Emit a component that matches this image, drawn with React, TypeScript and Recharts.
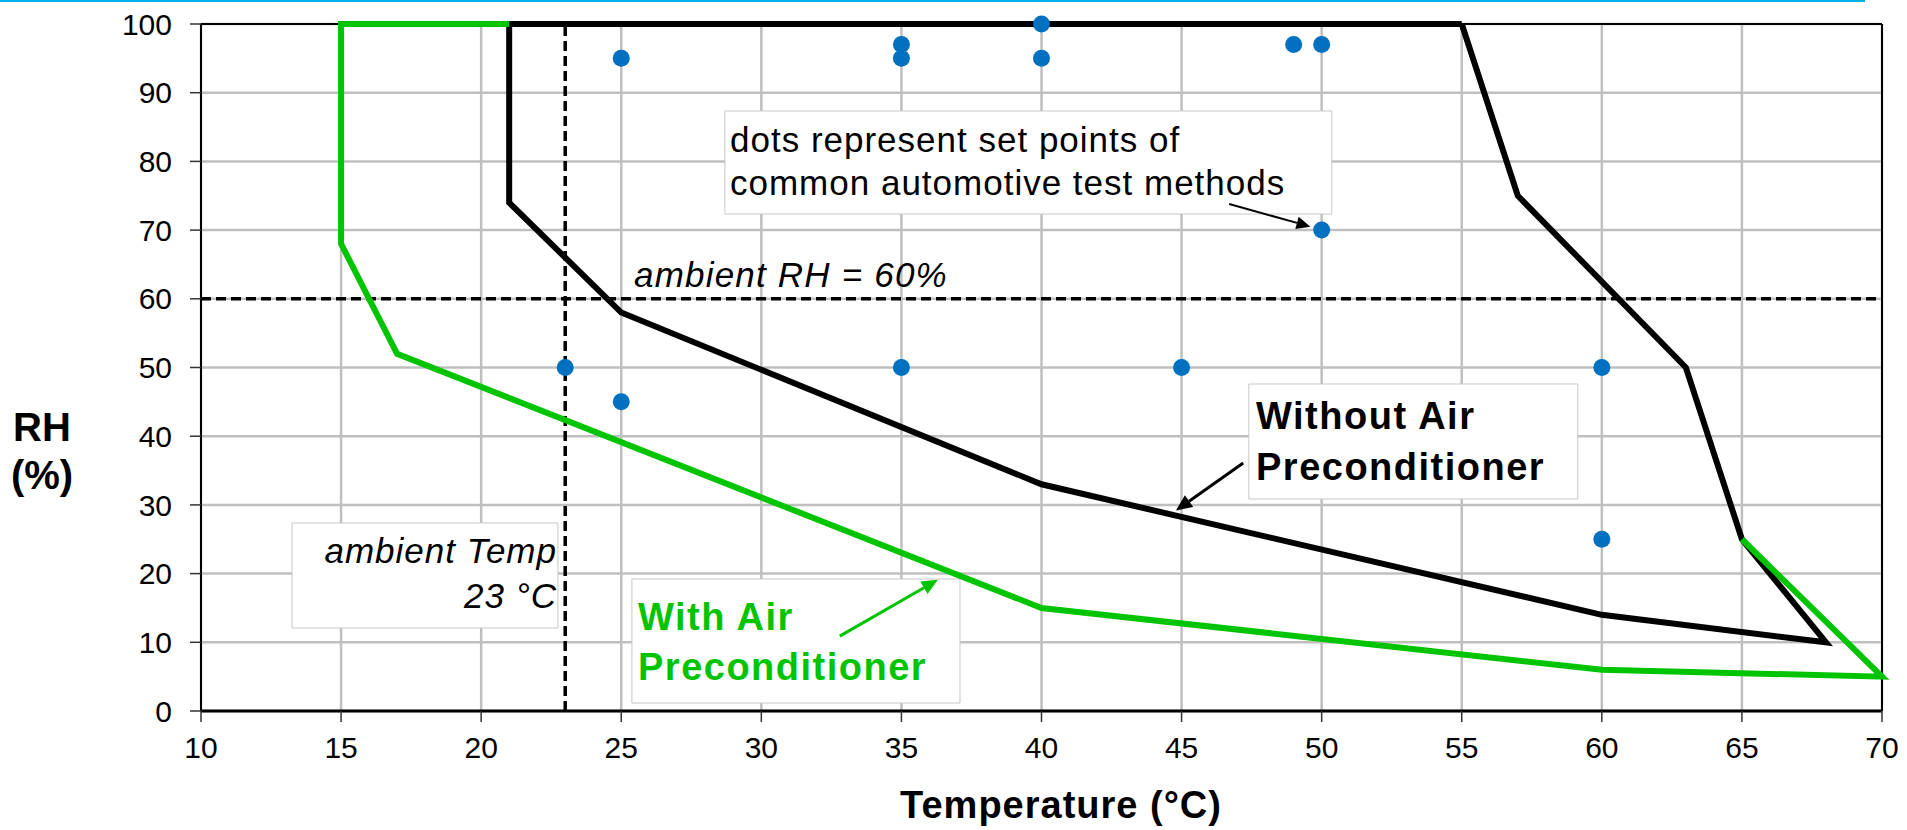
import React from "react";
import {
  ComposedChart,
  Line,
  Scatter,
  XAxis,
  YAxis,
  CartesianGrid,
  ReferenceLine,
  ReferenceArea,
} from "recharts";

// ==================== DATA ====================

const xTicks = [10, 15, 20, 25, 30, 35, 40, 45, 50, 55, 60, 65, 70];
const yTicks = [0, 10, 20, 30, 40, 50, 60, 70, 80, 90, 100];

// envelope without air preconditioner (closed outline)
const withoutAirT = [55, 21, 21, 25, 40, 60, 68, 65, 63, 57, 55];
const withoutAirRH = [100, 100, 74, 58, 33, 14, 10, 25, 50, 75, 100];

// envelope with air preconditioner
const withAirT = [21, 15, 15, 17, 40, 60, 70, 65];
const withAirRH = [100, 100, 68, 52, 15, 6, 5, 25];

// set points of common automotive test methods
const testT = [25, 35, 35, 40, 40, 49, 50, 50, 23, 25, 35, 45, 60, 60];
const testRH = [95, 97, 95, 100, 95, 97, 97, 70, 50, 45, 50, 50, 50, 25];

const ambientTemp = 23;
const ambientRH = 60;

const FONT = '"Liberation Sans", Arial, sans-serif';
const GREEN = "#00C400";
const BLUE = "#0070C0";

const toPoints = (t: number[], rh: number[]) =>
  t.map((v, i) => ({ t: v, rh: rh[i] }));

const withoutAir = toPoints(withoutAirT, withoutAirRH);
const withAir = toPoints(withAirT, withAirRH);
const testPoints = toPoints(testT, testRH);

// arrow drawn from a ReferenceLine segment, head at the second point
const arrowShape =
  (color: string, width: number, head: number) => (props: any) => {
    const { x1, y1, x2, y2 } = props;
    const a = Math.atan2(y2 - y1, x2 - x1);
    const bx = x2 - head * Math.cos(a);
    const by = y2 - head * Math.sin(a);
    const w = head * 0.45;
    const px = -Math.sin(a) * w;
    const py = Math.cos(a) * w;
    return (
      <g>
        <line x1={x1} y1={y1} x2={bx} y2={by} stroke={color} strokeWidth={width} />
        <polygon
          points={`${x2},${y2} ${bx + px},${by + py} ${bx - px},${by - py}`}
          fill={color}
        />
      </g>
    );
  };

const Dot = (props: any) => (
  <circle cx={props.cx} cy={props.cy} r={8.5} fill={BLUE} />
);

// white note boxes (drawn in chart coords, under curves and arrows)
const noteBox = {
  fill: "#fff",
  fillOpacity: 1,
  stroke: "#c8c8c8",
  strokeWidth: 1,
  ifOverflow: "visible" as const,
};

const textStyle: React.CSSProperties = {
  position: "absolute",
  fontFamily: FONT,
  whiteSpace: "nowrap",
};

export default function App() {
  return (
    <div
      style={{
        position: "absolute",
        left: 0,
        top: 0,
        width: 1907,
        height: 830,
        background: "#fff",
        overflow: "hidden",
      }}
    >
      {/* thin cyan rule along the top */}
      <div
        style={{
          position: "absolute",
          left: 0,
          top: 0,
          width: 1865,
          height: 2,
          background: "#00B0F0",
        }}
      />

      <ComposedChart
        width={1907}
        height={830}
        margin={{ top: 24, right: 25, bottom: 59, left: 81 }}
      >
        <CartesianGrid stroke="#bfbfbf" strokeWidth={2.5} />
        <XAxis
          type="number"
          dataKey="t"
          domain={[10, 70]}
          ticks={xTicks}
          interval={0}
          height={60}
          tickSize={11}
          tickMargin={15}
          tick={{ fontSize: 30, fill: "#000", fontFamily: FONT }}
          axisLine={{ stroke: "#000", strokeWidth: 3 }}
          tickLine={{ stroke: "#333", strokeWidth: 1.5 }}
        />
        <YAxis
          type="number"
          dataKey="rh"
          domain={[0, 100]}
          ticks={yTicks}
          interval={0}
          width={120}
          tickSize={11}
          tickMargin={18}
          tick={{ fontSize: 30, fill: "#000", fontFamily: FONT }}
          axisLine={{ stroke: "#000", strokeWidth: 2 }}
          tickLine={{ stroke: "#333", strokeWidth: 1.5 }}
        />

        <ReferenceArea x1={28.7} x2={50.36} y1={72.34} y2={87.34} {...noteBox} />
        <ReferenceArea x1={13.25} x2={22.74} y1={12.08} y2={27.37} {...noteBox} />
        <ReferenceArea x1={47.4} x2={59.14} y1={30.86} y2={47.6} {...noteBox} />
        <ReferenceArea x1={25.38} x2={37.09} y1={1.16} y2={19.21} {...noteBox} />

        {/* plot frame top and right */}
        <ReferenceLine y={100} stroke="#000" strokeWidth={2} />
        <ReferenceLine x={70} stroke="#000" strokeWidth={2} />

        {/* ambient conditions */}
        <ReferenceLine
          y={ambientRH}
          stroke="#000"
          strokeWidth={3.5}
          strokeDasharray="10 5"
        />
        <ReferenceLine
          x={ambientTemp}
          stroke="#000"
          strokeWidth={3.5}
          strokeDasharray="10 5"
        />

        <Line
          data={withoutAir}
          dataKey="rh"
          type="linear"
          stroke="#000"
          strokeWidth={6}
          dot={false}
          activeDot={false}
          isAnimationActive={false}
        />
        <Line
          data={withAir}
          dataKey="rh"
          type="linear"
          stroke={GREEN}
          strokeWidth={6}
          dot={false}
          activeDot={false}
          isAnimationActive={false}
        />
        <Scatter
          data={testPoints}
          dataKey="rh"
          shape={Dot}
          isAnimationActive={false}
        />

        {/* annotation arrows */}
        <ReferenceLine
          segment={[
            { x: 46.7, y: 73.8 },
            { x: 49.6, y: 70.5 },
          ]}
          shape={arrowShape("#000", 2, 14)}
        />
        <ReferenceLine
          segment={[
            { x: 47.2, y: 36.1 },
            { x: 44.8, y: 29.2 },
          ]}
          shape={arrowShape("#000", 3, 16)}
        />
        <ReferenceLine
          segment={[
            { x: 32.8, y: 10.9 },
            { x: 36.3, y: 19.1 },
          ]}
          shape={arrowShape(GREEN, 3, 16)}
        />
      </ComposedChart>

      {/* axis titles */}
      <div
        style={{
          ...textStyle,
          left: 0,
          top: 403,
          width: 84,
          textAlign: "center",
          fontWeight: "bold",
          fontSize: 40,
          lineHeight: "48px",
        }}
      >
        RH
        <br />
        (%)
      </div>
      <div
        style={{
          ...textStyle,
          left: 861,
          top: 780,
          width: 400,
          textAlign: "center",
          fontWeight: "bold",
          fontSize: 38,
          letterSpacing: 1,
          lineHeight: "50px",
        }}
      >
        Temperature (°C)
      </div>

      {/* ambient RH label */}
      <div
        style={{
          ...textStyle,
          left: 634,
          top: 255,
          fontStyle: "italic",
          fontSize: 35,
          letterSpacing: 1.2,
          lineHeight: "40px",
        }}
      >
        ambient RH = 60%
      </div>

      {/* set point note */}
      <div
        style={{
          ...textStyle,
          left: 730,
          top: 118,
          fontSize: 35,
          letterSpacing: 1,
          lineHeight: "43px",
        }}
      >
        dots represent set points of
        <br />
        common automotive test methods
      </div>

      {/* ambient temp note */}
      <div
        style={{
          ...textStyle,
          left: 292,
          top: 528,
          width: 265,
          textAlign: "right",
          fontStyle: "italic",
          fontSize: 35,
          letterSpacing: 1,
          lineHeight: "45px",
        }}
      >
        ambient Temp
        <br />
        23 °C
      </div>

      {/* without preconditioner */}
      <div
        style={{
          ...textStyle,
          left: 1256,
          top: 391,
          fontWeight: "bold",
          fontSize: 38,
          letterSpacing: 1.5,
          lineHeight: "51px",
          color: "#000",
        }}
      >
        Without Air
        <br />
        Preconditioner
      </div>

      {/* with preconditioner */}
      <div
        style={{
          ...textStyle,
          left: 638,
          top: 592,
          fontWeight: "bold",
          fontSize: 38,
          letterSpacing: 1.5,
          lineHeight: "50px",
          color: GREEN,
        }}
      >
        With Air
        <br />
        Preconditioner
      </div>
    </div>
  );
}
